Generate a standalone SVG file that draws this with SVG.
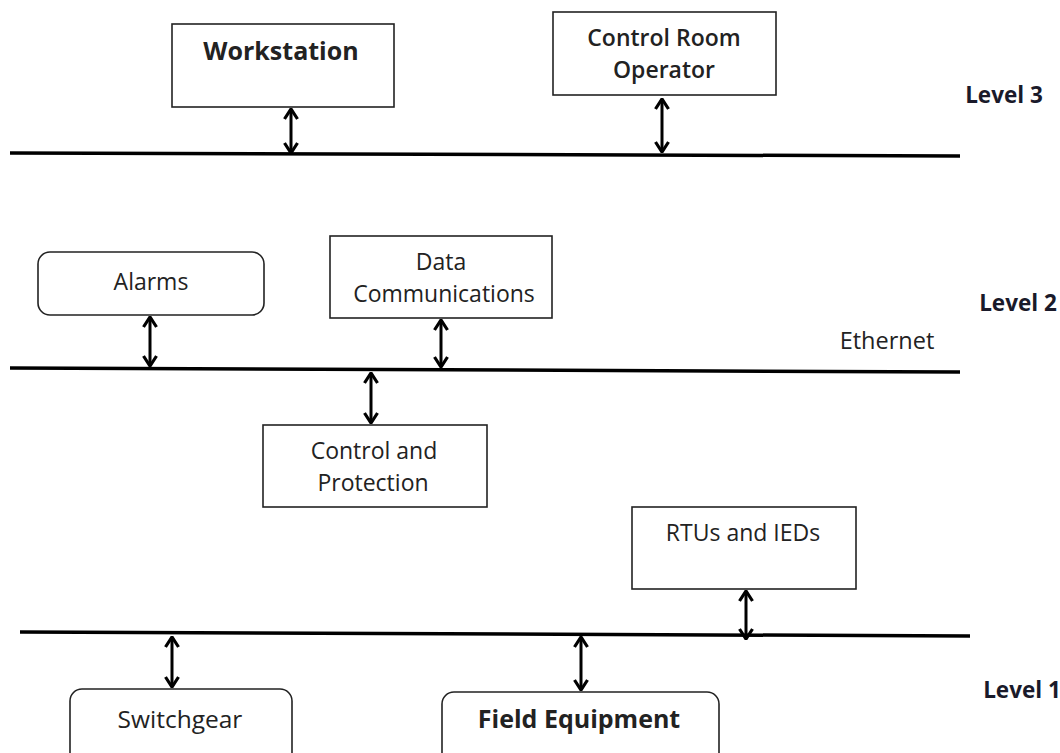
<svg xmlns="http://www.w3.org/2000/svg" width="1060" height="753" viewBox="0 0 1060 753">
<style>
.box{fill:#fff;stroke:#222;stroke-width:1.6}
.bus{stroke:#000;stroke-width:3.5;fill:none}
.arr{stroke:#000;stroke-width:3;fill:none;marker-start:url(#ah);marker-end:url(#ah)}
text{font-family:"Open Sans","Noto Sans",sans-serif;font-size:23px;fill:#222;text-anchor:middle}
.b{font-weight:bold;font-size:25px}
.lv{font-weight:bold;font-size:22.5px;fill:#1a1a2a}
</style>
<defs>
<marker id="ah" viewBox="0 0 12 16" refX="11" refY="8" markerWidth="12" markerHeight="16" markerUnits="userSpaceOnUse" orient="auto-start-reverse">
<polyline points="1,1.5 11,8 1,14.5" fill="none" stroke="#000" stroke-width="3.2"/>
</marker>
</defs>
<rect width="1060" height="753" fill="#fff"/>
<g id="connectors">
<line class="bus" x1="10" y1="153" x2="960" y2="156"/>
<line class="bus" x1="10" y1="368" x2="960" y2="372"/>
<line class="bus" x1="20" y1="632" x2="970" y2="636"/>
<line class="arr" x1="291" y1="109" x2="291" y2="153"/>
<line class="arr" x1="662" y1="99" x2="662" y2="152"/>
<line class="arr" x1="150" y1="317" x2="150" y2="366"/>
<line class="arr" x1="441" y1="320" x2="441" y2="367"/>
<line class="arr" x1="371" y1="373" x2="371" y2="423"/>
<line class="arr" x1="746" y1="591" x2="746" y2="639"/>
<line class="arr" x1="172" y1="637" x2="172" y2="687"/>
<line class="arr" x1="581" y1="637" x2="581" y2="690"/>
</g>
<g id="workstation"><rect class="box" x="172" y="24" width="222" height="83"/><text class="b" x="281" y="60">Workstation</text></g>
<g id="control-room"><rect class="box" x="553" y="12" width="223" height="83"/><text x="664" y="46" style="font-weight:600;font-size:23px">Control Room</text><text x="664" y="78" style="font-weight:600;font-size:23px">Operator</text></g>
<g id="level3"><text class="lv" x="1004" y="103">Level 3</text></g>
<g id="alarms"><rect class="box" x="38" y="252" width="226" height="63" rx="12"/><text x="151" y="290">Alarms</text></g>
<g id="data-comm"><rect class="box" x="330" y="236" width="222" height="82"/><text x="441" y="270">Data</text><text x="444" y="302">Communications</text></g>
<g id="ethernet"><text x="887" y="349" style="font-size:23.5px">Ethernet</text></g>
<g id="level2"><text class="lv" x="1018" y="311">Level 2</text></g>
<g id="control-protection"><rect class="box" x="263" y="425" width="224" height="82"/><text x="374" y="459">Control and</text><text x="373" y="491">Protection</text></g>
<g id="rtus"><rect class="box" x="632" y="507" width="224" height="82"/><text x="743" y="541">RTUs and IEDs</text></g>
<g id="level1"><text class="lv" x="1022" y="698">Level 1</text></g>
<g id="switchgear"><rect class="box" x="70" y="689" width="222" height="80" rx="12"/><text x="180" y="728" style="font-size:24.5px">Switchgear</text></g>
<g id="field-equipment"><rect class="box" x="442" y="692" width="277" height="80" rx="12"/><text class="b" x="579" y="728">Field Equipment</text></g>
</svg>
